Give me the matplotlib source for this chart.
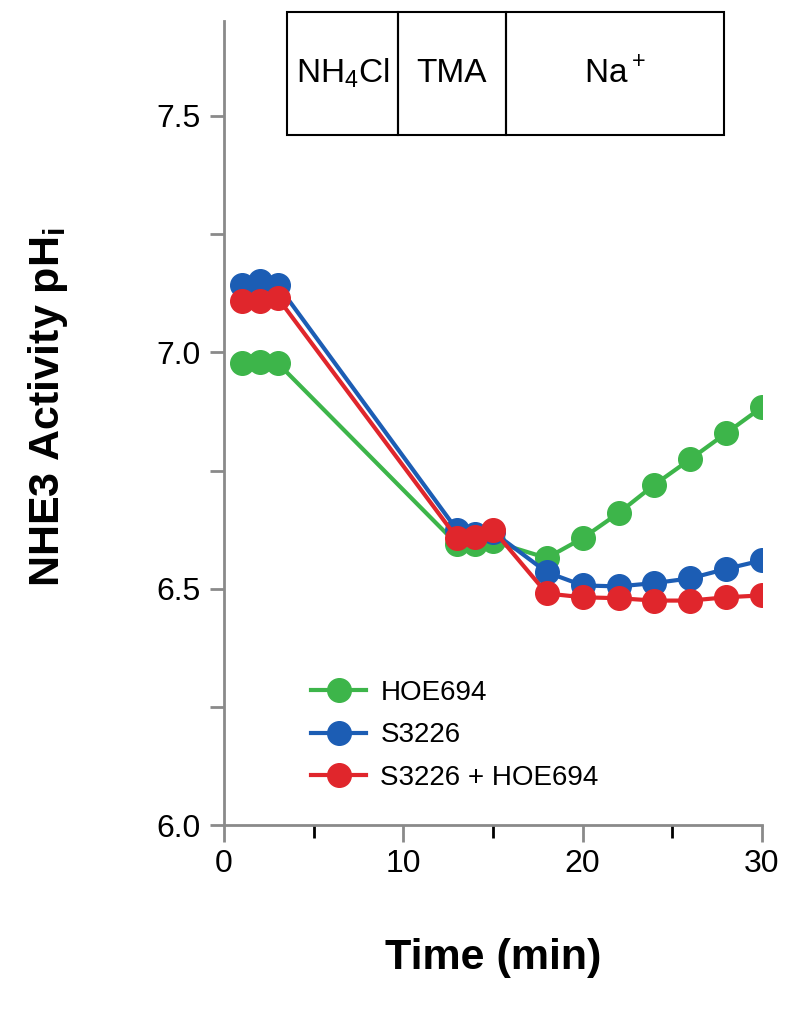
import matplotlib.pyplot as plt
from matplotlib.patches import Rectangle
from matplotlib.ticker import MultipleLocator, FuncFormatter

plt.rcParams['font.family'] = ['Liberation Sans', 'DejaVu Sans']
plt.rcParams['mathtext.fontset'] = 'custom'
plt.rcParams['mathtext.rm'] = 'Liberation Sans'
plt.rcParams['mathtext.bf'] = 'Liberation Sans:bold'

time = [1, 2, 3, 13, 14, 15, 18, 20, 22, 24, 26, 28, 30]
hoe694 = [6.977, 6.98, 6.977, 6.594, 6.594, 6.60, 6.565, 6.607, 6.66, 6.72, 6.774, 6.829, 6.884]
s3226 = [7.142, 7.150, 7.142, 6.624, 6.615, 6.62, 6.535, 6.507, 6.505, 6.512, 6.522, 6.542, 6.56]
s3226_hoe = [7.108, 7.108, 7.115, 6.607, 6.61, 6.625, 6.49, 6.482, 6.48, 6.475, 6.475, 6.482, 6.486]

labels = ['HOE694', 'S3226', 'S3226 + HOE694']
colors = ['#3db54a', '#1c5db4', '#e0262c']

# perfusion periods (start, end, label)
periods = [(3.5, 9.7, 'NH$_4$Cl'), (9.7, 15.7, 'TMA'), (15.7, 27.9, 'Na$^+$')]

fig = plt.figure(figsize=(8, 10.15), dpi=100)
ax = fig.add_axes([0.28, 0.187, 0.6725, 0.792])

for y, lab, c in zip([hoe694, s3226, s3226_hoe], labels, colors):
    ax.plot(time, y, '-o', color=c, lw=3, ms=17, label=lab)

for x0, x1, txt in periods:
    ax.add_patch(Rectangle((x0, 7.46), x1 - x0, 0.26, fill=False, ec='black',
                           lw=1.5, clip_on=False))
    ax.text((x0 + x1) / 2, 7.59, txt, ha='center', va='center', fontsize=24)

ax.set_xlim(0, 30)
ax.set_ylim(6.0, 7.7)
ax.xaxis.set_major_locator(MultipleLocator(10))
ax.xaxis.set_minor_locator(MultipleLocator(5))
ax.yaxis.set_major_locator(MultipleLocator(0.25))
ax.yaxis.set_major_formatter(FuncFormatter(
    lambda v, p: f'{v:.1f}' if abs(v * 2 - round(v * 2)) < 1e-6 else ''))

for s in ['top', 'right']:
    ax.spines[s].set_visible(False)
for s in ['left', 'bottom']:
    ax.spines[s].set_color('#8a8a8a')
    ax.spines[s].set_linewidth(2)

ax.tick_params(axis='both', colors='#8a8a8a', labelcolor='black', width=2, labelsize=23)
ax.tick_params(axis='y', length=10, pad=7)
ax.tick_params(axis='x', which='major', length=12, pad=5)
ax.tick_params(axis='x', which='minor', length=9, width=2)

ax.set_xlabel('Time (min)', fontsize=31, fontweight='bold')
ax.set_ylabel(r'NHE3 Activity pH$_\mathbf{i}$', fontsize=31, fontweight='bold')
ax.xaxis.set_label_coords(0.5, -0.14)
ax.yaxis.set_label_coords(-0.286, 0.52)

ax.legend(loc='upper left', bbox_to_anchor=(0.115, 0.212), frameon=False, fontsize=20,
          numpoints=1, handlelength=2.0, handletextpad=0.5, labelspacing=0.6)

fig.savefig('out.png', dpi=100)
